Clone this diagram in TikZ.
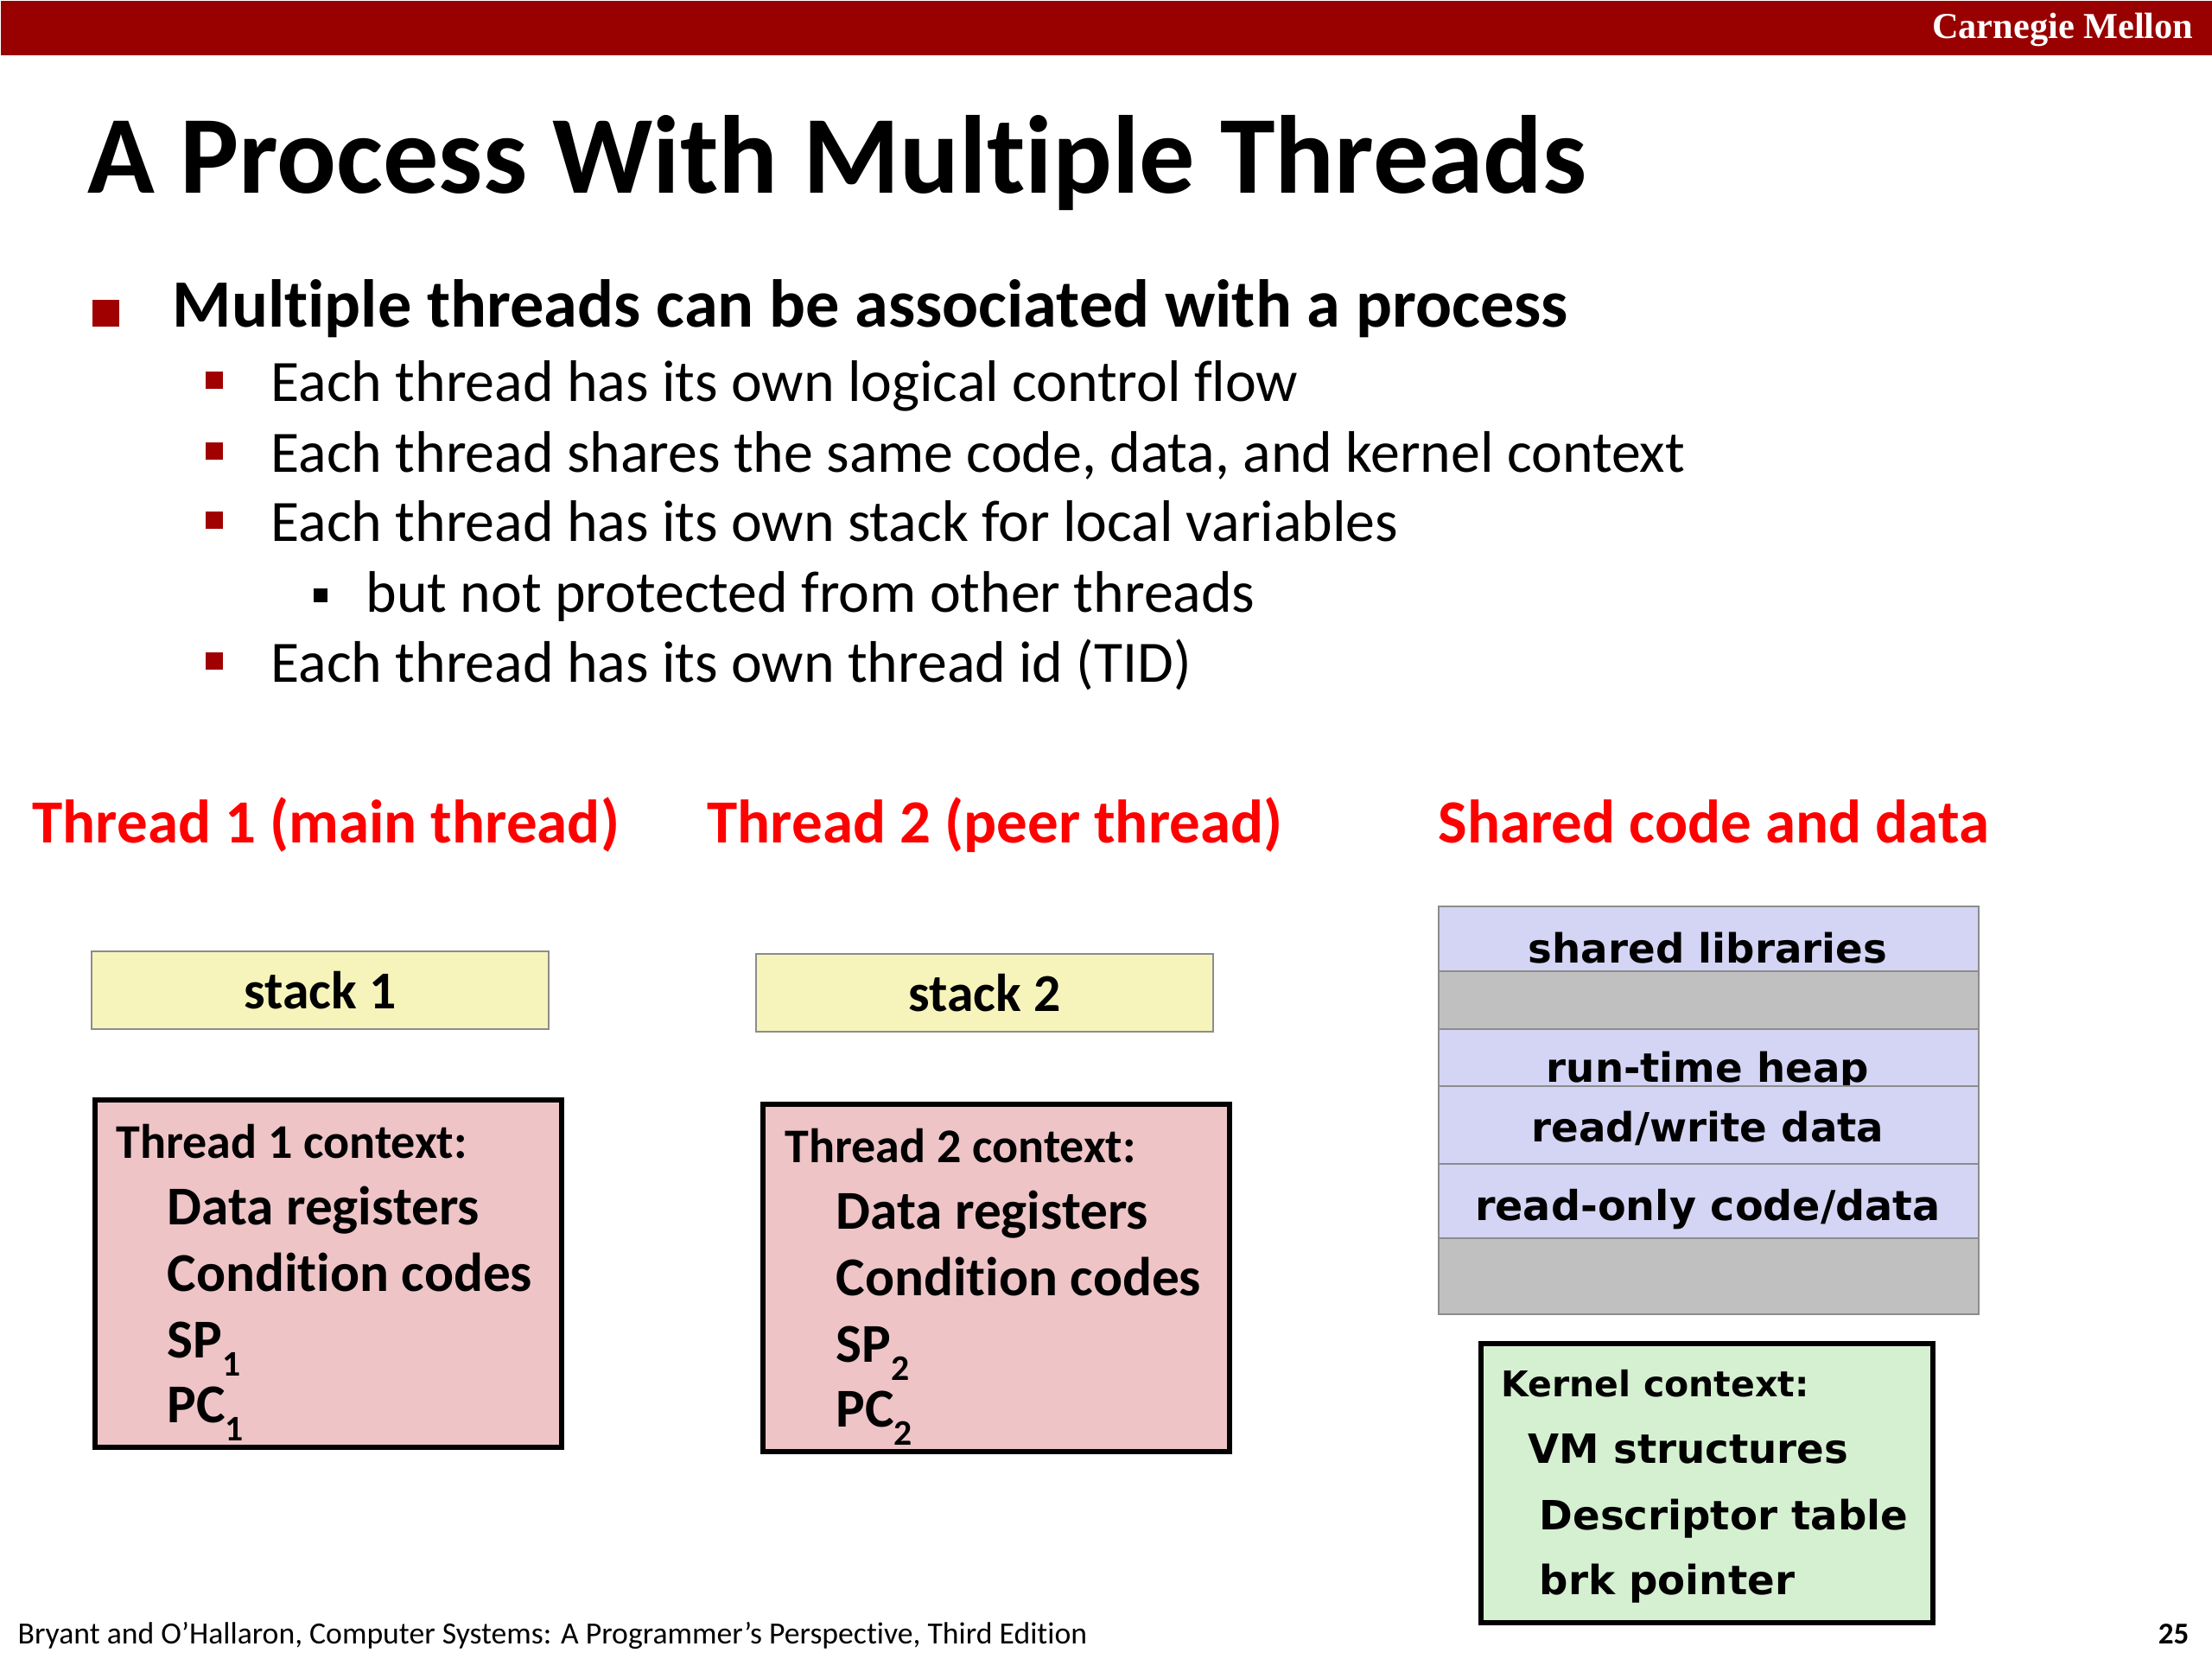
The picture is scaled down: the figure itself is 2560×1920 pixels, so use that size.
\documentclass[tikz,border=0pt]{standalone}
\usepackage{fontspec}
\setmainfont{Carlito}[Ligatures=NoCommon]
\newfontfamily\verd{DejaVu Sans}
\newfontfamily\tms{Liberation Serif}
\definecolor{cmured}{HTML}{990000}
\definecolor{bulred}{HTML}{A00000}
\definecolor{hdrred}{HTML}{FF0000}
\definecolor{stackyel}{HTML}{F6F4BA}
\definecolor{ctxpink}{HTML}{EEC4C6}
\definecolor{lav}{HTML}{D4D4F4}
\definecolor{sgray}{HTML}{C0C0C0}
\definecolor{kgreen}{HTML}{D5F0D1}
\definecolor{edgegray}{HTML}{8C8C8C}
\newcommand{\sub}[1]{\raisebox{-0.34em}{\fontsize{12.5}{12.5}\selectfont #1}}
\begin{document}
\begin{tikzpicture}[x=0.3pt,y=-0.3pt,
  txt/.style={inner sep=0pt, anchor=base west},
  txtr/.style={inner sep=0pt, anchor=base east},
  txtc/.style={inner sep=0pt, anchor=base},
  bulA/.style={rectangle, fill=bulred, inner sep=0pt, minimum size=31*0.3pt},
  bulB/.style={rectangle, fill=bulred, inner sep=0pt, minimum size=20*0.3pt},
  bulC/.style={rectangle, fill=black, inner sep=0pt, minimum size=16*0.3pt},
  l2/.style={txt, font=\fontsize{20.35}{24}\selectfont},
  hdr/.style={txt, text=hdrred, font=\fontsize{21.3}{25}\selectfont\bfseries},
  stackbox/.style={rectangle, draw=edgegray, line width=0.6pt, fill=stackyel, inner sep=0pt,
      minimum width=529*0.3pt, minimum height=90*0.3pt, font=\fontsize{18.5}{22}\selectfont\bfseries},
  ctxbox/.style={rectangle, draw=black, line width=1.8pt, fill=ctxpink, inner sep=0pt, anchor=north west,
      minimum width=540*0.3pt, minimum height=402*0.3pt},
  kbox/.style={rectangle, draw=black, line width=1.8pt, fill=kgreen, inner sep=0pt, anchor=north west,
      minimum width=523*0.3pt, minimum height=323*0.3pt},
  ctxhead/.style={txt, font=\fontsize{16.8}{20}\selectfont\bfseries},
  ctxline/.style={txt, font=\fontsize{19}{23}\selectfont\bfseries},
  row/.style={rectangle, draw=edgegray, line width=0.6pt, inner sep=0pt, anchor=north west,
      minimum width=625*0.3pt},
  rowtxt/.style={txtc, font=\verd\fontsize{14}{17}\selectfont\bfseries},
  khead/.style={txt, font=\verd\fontsize{12.3}{15}\selectfont\bfseries},
  kline/.style={txt, font=\verd\fontsize{14}{17}\selectfont\bfseries}]
\useasboundingbox (0,0) rectangle (2560,1920);
\fill[white] (0,0) rectangle (2560,1920);

% top bar
\node[fill=cmured, inner sep=0pt, anchor=north west, minimum width=2560*0.3pt, minimum height=63*0.3pt] (topbar) at (0,0) {};
\node[txtr, text=white, font=\tms\fontsize{12.7}{15}\selectfont\bfseries] (cmu) at (2539,45) {Carnegie Mellon};

% title
\node[txt, font=\fontsize{38.5}{44}\selectfont\bfseries] (title) at (101,224) {A Process With Multiple Threads};

% bullets
\node[bulA] (b1) at (122.5,363) {};
\node[txt, font=\fontsize{23.5}{28}\selectfont\bfseries] (t1) at (199,379) {Multiple threads can be associated with a process};
\node[bulB] (b2) at (248,440) {};
\node[l2] (t2) at (313,465) {Each thread has its own logical control flow};
\node[bulB] (b3) at (248,522) {};
\node[l2] (t3) at (313,547) {Each thread shares the same code, data, and kernel context};
\node[bulB] (b4) at (248,602) {};
\node[l2] (t4) at (313,627) {Each thread has its own stack for local variables};
\node[bulC] (b5) at (371,689) {};
\node[l2] (t5) at (423,709) {but not protected from other threads};
\node[bulB] (b6) at (248,765) {};
\node[l2] (t6) at (313,790) {Each thread has its own thread id (TID)};

% headers
\node[hdr] (h1) at (37,976) {Thread 1 (main thread)};
\node[hdr] (h2) at (818,976) {Thread 2 (peer thread)};
\node[hdr] (h3) at (1664,976) {Shared code and data};

% stacks
\node[stackbox] (stack1) at (370.5,1146) {stack 1};
\node[stackbox] (stack2) at (1139.5,1149) {stack 2};

% thread 1 context
\node[ctxbox] (ctx1) at (107,1270) {};
\node[ctxhead] (c1a) at (134,1340) {Thread 1 context:};
\node[ctxline] (c1b) at (193,1417) {Data registers};
\node[ctxline] (c1c) at (193,1494) {Condition codes};
\node[ctxline] (c1d) at (193,1571) {SP\sub{1}};
\node[ctxline] (c1e) at (193,1646) {PC\sub{1}};

% thread 2 context
\node[ctxbox] (ctx2) at (880,1275) {};
\node[ctxhead] (c2a) at (908,1345) {Thread 2 context:};
\node[ctxline] (c2b) at (967,1422) {Data registers};
\node[ctxline] (c2c) at (967,1499) {Condition codes};
\node[ctxline] (c2d) at (967,1576) {SP\sub{2}};
\node[ctxline] (c2e) at (967,1651) {PC\sub{2}};

% shared address space
\node[row, fill=lav, minimum height=75*0.3pt] (r1) at (1664,1048) {};
\node[rowtxt] (r1t) at (1976.5,1115) {shared libraries};
\node[row, fill=sgray, minimum height=67*0.3pt] (r2) at (1664,1123) {};
\node[row, fill=lav, minimum height=66*0.3pt] (r3) at (1664,1190) {};
\node[rowtxt] (r3t) at (1976.5,1253) {run-time heap};
\node[row, fill=lav, minimum height=90*0.3pt] (r4) at (1664,1256) {};
\node[rowtxt] (r4t) at (1976.5,1322) {read/write data};
\node[row, fill=lav, minimum height=86*0.3pt] (r5) at (1664,1346) {};
\node[rowtxt, font=\verd\fontsize{14.3}{17}\selectfont\bfseries] (r5t) at (1976.5,1412) {read-only code/data};
\node[row, fill=sgray, minimum height=88*0.3pt] (r6) at (1664,1432) {};

% kernel context
\node[kbox] (kctx) at (1711,1552) {};
\node[khead] (k1) at (1737,1616) {Kernel context:};
\node[kline] (k2) at (1768,1693) {VM structures};
\node[kline] (k3) at (1781,1770) {Descriptor table};
\node[kline] (k4) at (1781,1845) {brk pointer};

% footer
\node[txt, font=\fontsize{10.7}{12}\selectfont] (foot) at (20,1902) {Bryant and O’Hallaron, Computer Systems: A Programmer’s Perspective, Third Edition};
\node[txtr, font=\fontsize{10.5}{12}\selectfont\bfseries] (pg) at (2534,1902) {25};
\end{tikzpicture}
\end{document}
